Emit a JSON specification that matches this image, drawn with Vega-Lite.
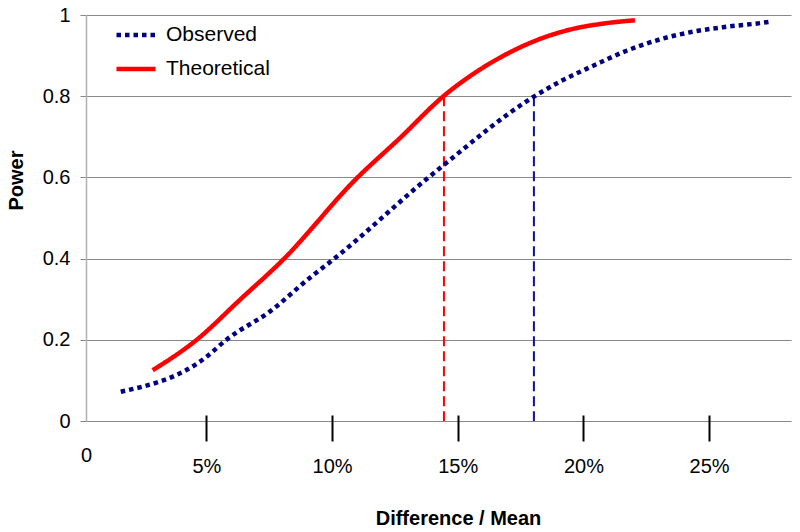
{
  "$schema": "https://vega.github.io/schema/vega-lite/v6.json",
  "width": 705,
  "height": 406,
  "autosize": "none",
  "padding": {"left": 86, "top": 15, "right": 9, "bottom": 111},
  "background": "white",
  "config": {
    "font": "Liberation Sans",
    "view": {"stroke": null},
    "legend": {"padding": 0}
  },
  "datasets": {
    "curves": [
      {"series": "Observed", "diff": 1.59, "power": 0.072},
      {"series": "Observed", "diff": 4.98, "power": 0.157},
      {"series": "Observed", "diff": 5.81, "power": 0.201},
      {"series": "Observed", "diff": 7.53, "power": 0.27},
      {"series": "Observed", "diff": 9.12, "power": 0.353},
      {"series": "Observed", "diff": 10.05, "power": 0.398},
      {"series": "Observed", "diff": 13.76, "power": 0.596},
      {"series": "Observed", "diff": 14.45, "power": 0.631},
      {"series": "Observed", "diff": 18.03, "power": 0.799},
      {"series": "Observed", "diff": 19.07, "power": 0.836},
      {"series": "Observed", "diff": 20.39, "power": 0.875},
      {"series": "Observed", "diff": 21.72, "power": 0.912},
      {"series": "Observed", "diff": 23.05, "power": 0.94},
      {"series": "Observed", "diff": 24.37, "power": 0.959},
      {"series": "Observed", "diff": 25.7, "power": 0.971},
      {"series": "Observed", "diff": 27.03, "power": 0.98},
      {"series": "Observed", "diff": 27.49, "power": 0.984},
      {"series": "Theoretical", "diff": 2.86, "power": 0.125},
      {"series": "Theoretical", "diff": 4.61, "power": 0.2},
      {"series": "Theoretical", "diff": 6.34, "power": 0.299},
      {"series": "Theoretical", "diff": 8.06, "power": 0.398},
      {"series": "Theoretical", "diff": 10.95, "power": 0.596},
      {"series": "Theoretical", "diff": 12.7, "power": 0.697},
      {"series": "Theoretical", "diff": 14.45, "power": 0.801},
      {"series": "Theoretical", "diff": 15.62, "power": 0.855},
      {"series": "Theoretical", "diff": 16.95, "power": 0.904},
      {"series": "Theoretical", "diff": 18.27, "power": 0.941},
      {"series": "Theoretical", "diff": 19.6, "power": 0.966},
      {"series": "Theoretical", "diff": 20.93, "power": 0.98},
      {"series": "Theoretical", "diff": 22.05, "power": 0.987}
    ],
    "targets": [
      {"series": "Theoretical", "diff": 14.45, "power": 0.8, "base": 0},
      {"series": "Observed", "diff": 18.03, "power": 0.8, "base": 0}
    ]
  },
  "layer": [
    {
      "data": {"name": "targets"},
      "transform": [{"filter": "datum.series === 'Theoretical'"}],
      "mark": {"type": "rule", "color": "#ff0000", "strokeWidth": 2, "strokeDash": [10, 5]},
      "encoding": {
        "x": {"field": "diff", "type": "quantitative"},
        "y": {"field": "power", "type": "quantitative"},
        "y2": {"field": "base"}
      }
    },
    {
      "data": {"name": "targets"},
      "transform": [{"filter": "datum.series === 'Observed'"}],
      "mark": {"type": "rule", "color": "#10109a", "strokeWidth": 2, "strokeDash": [10, 5]},
      "encoding": {
        "x": {"field": "diff", "type": "quantitative"},
        "y": {"field": "power", "type": "quantitative"},
        "y2": {"field": "base"}
      }
    },
    {
      "data": {"name": "curves"},
      "mark": {"type": "line", "interpolate": "monotone", "strokeWidth": 4.5, "strokeCap": "butt"},
      "encoding": {
        "x": {
          "field": "diff",
          "type": "quantitative",
          "scale": {"domain": [0.207, 28.26], "nice": false, "zero": false},
          "axis": {
            "values": [0.207, 5, 10, 15, 20, 25],
            "labelExpr": "datum.value < 1 ? '0' : datum.value + '%'",
            "domain": false,
            "grid": false,
            "offset": -6,
            "tickSize": 26,
            "tickWidth": 2,
            "tickColor": "#000000",
            "tickOpacity": {"condition": {"test": "datum.value < 1", "value": 0}, "value": 1},
            "labelPadding": {"condition": {"test": "datum.value < 1", "value": 4}, "value": 15},
            "labelFontSize": 20,
            "labelColor": "#000000",
            "labelFlush": false,
            "labelOverlap": false,
            "title": "Difference / Mean",
            "titleFontSize": 20,
            "titleFontWeight": "bold",
            "titleColor": "#000000",
            "titleX": 372,
            "titleY": 93,
            "titleAlign": "center",
            "titleBaseline": "top"
          }
        },
        "y": {
          "field": "power",
          "type": "quantitative",
          "scale": {"domain": [0, 1], "nice": false},
          "axis": {
            "values": [0, 0.2, 0.4, 0.6, 0.8, 1],
            "format": "~g",
            "domainColor": "#b0b0b0",
            "domainWidth": 1.5,
            "gridColor": "#888888",
            "gridWidth": 1,
            "tickColor": "#888888",
            "tickSize": 6,
            "labelPadding": 10,
            "labelFontSize": 20,
            "labelColor": "#000000",
            "labelFlush": false,
            "title": "Power",
            "titleFontSize": 20,
            "titleFontWeight": "bold",
            "titleColor": "#000000",
            "titleX": -70,
            "titleY": 165,
            "titleAngle": -90,
            "titleAlign": "center",
            "titleBaseline": "middle"
          }
        },
        "color": {
          "field": "series",
          "type": "nominal",
          "scale": {"domain": ["Observed", "Theoretical"], "range": ["#000080", "#ff0000"]},
          "legend": {
            "title": null,
            "orient": "none",
            "legendX": 28,
            "legendY": -2,
            "symbolType": "stroke",
            "symbolSize": 1521,
            "symbolStrokeWidth": 4.5,
            "labelFontSize": 21,
            "labelColor": "#000000",
            "labelOffset": 8,
            "rowPadding": 2
          }
        },
        "strokeDash": {
          "field": "series",
          "type": "nominal",
          "scale": {"domain": ["Observed", "Theoretical"], "range": [[4.5, 4], [1, 0]]},
          "legend": {
            "title": null,
            "orient": "none",
            "legendX": 28,
            "legendY": -2,
            "symbolType": "stroke",
            "symbolSize": 1521,
            "symbolStrokeWidth": 4.5,
            "labelFontSize": 21,
            "labelColor": "#000000",
            "labelOffset": 8,
            "rowPadding": 2
          }
        }
      }
    }
  ]
}
